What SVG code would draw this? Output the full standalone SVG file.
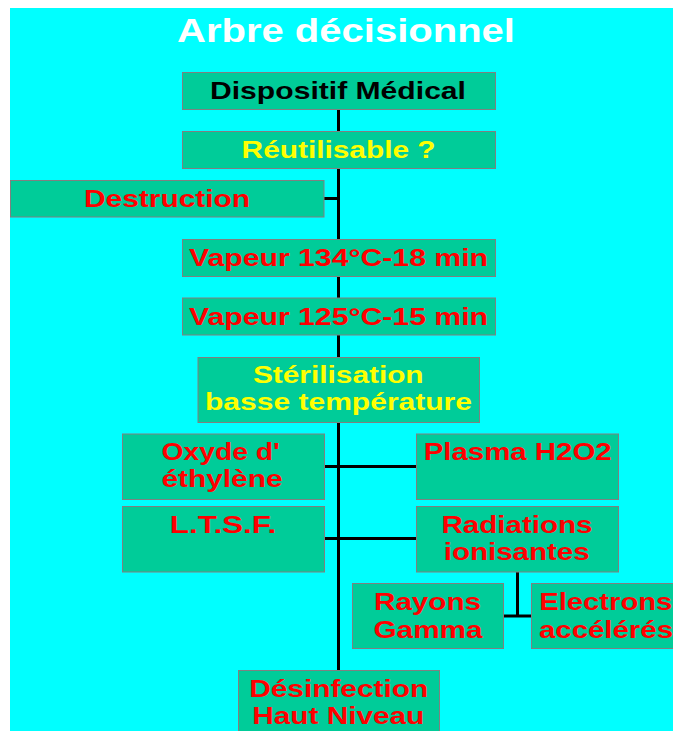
<svg xmlns="http://www.w3.org/2000/svg" width="673" height="731" viewBox="0 0 673 731">
<style>
.box{fill:#00CC99;stroke:#808080;stroke-width:1}
.t{font-family:"Liberation Sans",Arial,sans-serif;font-weight:bold;font-size:24px;text-anchor:middle}
.r{fill:#FF0000}
.y{fill:#FFFF00}
.k{fill:#000000}
.ln{stroke:#000000;stroke-width:3;fill:none}
</style>
<rect x="0" y="0" width="673" height="731" fill="#FFFFFF"/>
<rect x="10" y="8" width="663" height="723" fill="#00FFFF"/>
<text x="346" y="42" class="t" style="font-size:34px" fill="#FFFFFF" textLength="338" lengthAdjust="spacingAndGlyphs">Arbre décisionnel</text>
<g id="connectors">
<line class="ln" x1="338.5" y1="109" x2="338.5" y2="670"/>
<line class="ln" x1="324" y1="198.5" x2="338.5" y2="198.5"/>
<line class="ln" x1="324" y1="466.5" x2="416.5" y2="466.5"/>
<line class="ln" x1="324" y1="538.5" x2="416.5" y2="538.5"/>
<line class="ln" x1="517.5" y1="572" x2="517.5" y2="616"/>
<line class="ln" x1="503" y1="616" x2="531.5" y2="616"/>
</g>
<g id="n-dispositif">
<rect class="box" x="182.5" y="72.5" width="313" height="37"/>
<text class="t k" x="338" y="99" textLength="256" lengthAdjust="spacingAndGlyphs">Dispositif Médical</text>
</g>
<g id="n-reutilisable">
<rect class="box" x="182.5" y="131.5" width="313" height="37"/>
<text class="t y" x="338.6" y="158" textLength="194" lengthAdjust="spacingAndGlyphs">Réutilisable ?</text>
</g>
<g id="n-destruction">
<rect class="box" x="10.5" y="180.5" width="313.5" height="36.5"/>
<text class="t r" x="167" y="207" textLength="166" lengthAdjust="spacingAndGlyphs">Destruction</text>
</g>
<g id="n-vapeur134">
<rect class="box" x="182.5" y="239.5" width="313" height="37"/>
<text class="t r" x="338.5" y="266" textLength="299" lengthAdjust="spacingAndGlyphs">Vapeur 134°C-18 min</text>
</g>
<g id="n-vapeur125">
<rect class="box" x="182.5" y="298" width="313" height="37"/>
<text class="t r" x="338.5" y="325" textLength="299" lengthAdjust="spacingAndGlyphs">Vapeur 125°C-15 min</text>
</g>
<g id="n-sterilisation">
<rect class="box" x="198" y="357.5" width="281.5" height="65"/>
<text class="t y" x="338.3" y="383" textLength="170.6" lengthAdjust="spacingAndGlyphs">Stérilisation</text>
<text class="t y" x="338.5" y="410" textLength="267" lengthAdjust="spacingAndGlyphs">basse température</text>
</g>
<g id="n-oxyde">
<rect class="box" x="122.5" y="434" width="202" height="65.5"/>
<text class="t r" x="220.6" y="460" textLength="118" lengthAdjust="spacingAndGlyphs">Oxyde d'</text>
<text class="t r" x="222" y="487" textLength="121" lengthAdjust="spacingAndGlyphs">éthylène</text>
</g>
<g id="n-plasma">
<rect class="box" x="416.5" y="434" width="202" height="65.5"/>
<text class="t r" x="517.7" y="460" textLength="188" lengthAdjust="spacingAndGlyphs">Plasma H2O2</text>
</g>
<g id="n-ltsf">
<rect class="box" x="122.5" y="506.5" width="202" height="65.5"/>
<text class="t r" x="223" y="533" textLength="106.5" lengthAdjust="spacingAndGlyphs">L.T.S.F.</text>
</g>
<g id="n-radiations">
<rect class="box" x="416.5" y="506.5" width="202" height="65.5"/>
<text class="t r" x="517" y="533" textLength="151" lengthAdjust="spacingAndGlyphs">Radiations</text>
<text class="t r" x="516.7" y="560" textLength="146" lengthAdjust="spacingAndGlyphs">ionisantes</text>
</g>
<g id="n-rayons">
<rect class="box" x="352.5" y="583.5" width="151" height="65"/>
<text class="t r" x="427.5" y="610" textLength="107" lengthAdjust="spacingAndGlyphs">Rayons</text>
<text class="t r" x="428" y="638" textLength="109" lengthAdjust="spacingAndGlyphs">Gamma</text>
</g>
<g id="n-electrons">
<rect class="box" x="531.5" y="583.5" width="150" height="65"/>
<text class="t r" x="539.3" y="610" style="text-anchor:start" textLength="133" lengthAdjust="spacingAndGlyphs">Electrons</text>
<text class="t r" x="539" y="638" style="text-anchor:start" textLength="134" lengthAdjust="spacingAndGlyphs">accélérés</text>
</g>
<g id="n-desinfection">
<rect class="box" x="238.5" y="670.5" width="201" height="70"/>
<text class="t r" x="338.7" y="697" textLength="179" lengthAdjust="spacingAndGlyphs">Désinfection</text>
<text class="t r" x="338.3" y="724" textLength="172" lengthAdjust="spacingAndGlyphs">Haut Niveau</text>
</g>
</svg>
